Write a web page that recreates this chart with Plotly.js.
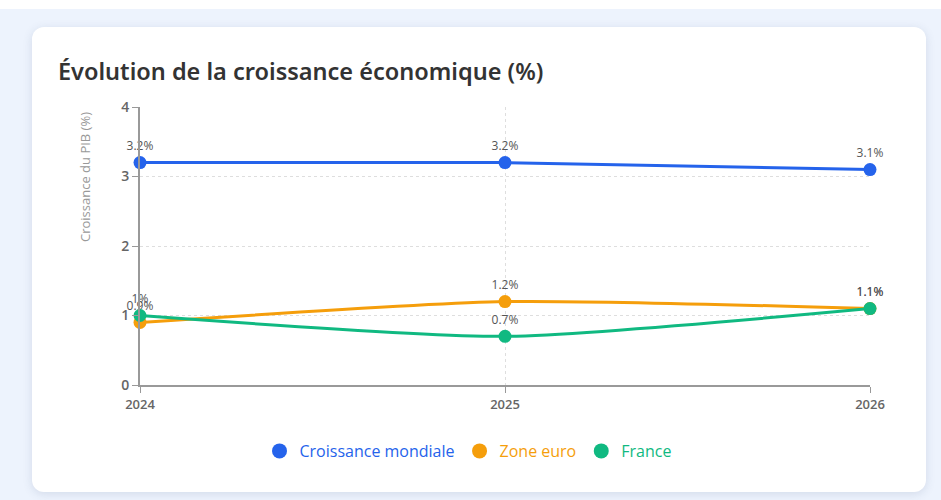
<!DOCTYPE html>
<html><head><meta charset="utf-8">
<script src="https://cdn.plot.ly/plotly-3.0.1.min.js"></script>
<style>
html,body{margin:0;padding:0;width:941px;height:500px;overflow:hidden;background:#fff;}
#bg{position:absolute;left:0;top:9px;width:941px;height:491px;background:#edf3fd;}
#card{position:absolute;left:32px;top:27px;width:894px;height:465px;background:#fff;border-radius:12px;box-shadow:0 2px 10px rgba(60,80,120,0.15);}
#chart{position:absolute;left:0;top:0;width:941px;height:500px;}
</style></head><body>
<div id="bg"></div><div id="card"></div><div id="chart"></div>
<script>
const years = [2024, 2025, 2026];
const mondiale = [3.2, 3.2, 3.1];
const zoneEuro = [0.9, 1.2, 1.1];
const france = [1.0, 0.7, 1.1];
const seriesNames = ['Croissance mondiale', 'Zone euro', 'France'];
const colors = ['#2563eb', '#f59e0b', '#10b981'];
const yTicks = [0, 1, 2, 3, 4];
const yTitle = 'Croissance du PIB (%)';

const fmt = v => (Math.round(v*10)/10) + '%';
const allSeries = [mondiale, zoneEuro, france];
const traces = [];
allSeries.forEach((vals, i) => {
  traces.push({
    x: years, y: vals, type: 'scatter', mode: 'lines+markers+text',
    line: {color: colors[i], width: 3, shape: 'spline', smoothing: 0.6},
    marker: {color: colors[i], size: 13},
    text: vals.map(fmt), textposition: 'top center',
    textfont: {family: 'Open Sans, sans-serif', size: 12, color: '#555', weight: 500},
    cliponaxis: false, showlegend: false, hoverinfo: 'skip'
  });
});
allSeries.forEach((vals, i) => {
  traces.push({
    x: [null], y: [null], type: 'scatter', mode: 'markers',
    marker: {color: colors[i], size: 15},
    name: '<span style="color:' + colors[i] + '">' + seriesNames[i] + '</span>',
    showlegend: true
  });
});

const layout = {
  width: 941, height: 500,
  paper_bgcolor: 'rgba(0,0,0,0)', plot_bgcolor: 'rgba(0,0,0,0)',
  margin: {l: 140, r: 71, t: 107, b: 115},
  font: {family: 'Open Sans, sans-serif'},
  title: {text: 'Évolution de la croissance économique (%)', x: 58/941, xref: 'container', xanchor: 'left',
          y: 1 - 72/500, yref: 'container', yanchor: 'middle',
          font: {family: 'Noto Sans, sans-serif', size: 23.5, color: '#333', weight: 600}},
  xaxis: {range: [2024, 2026], tickvals: years, ticktext: years.map(String),
          showline: true, linecolor: '#999', linewidth: 2, ticks: 'outside', ticklen: 6, tickcolor: '#999',
          showgrid: true, gridcolor: '#dedede', griddash: '3px,3px', zeroline: false,
          tickfont: {size: 13, color: '#666', weight: 600}},
  yaxis: {range: [0, 4], tickvals: yTicks, showline: true, linecolor: '#999', linewidth: 2,
          ticks: 'outside', ticklen: 6, tickcolor: '#999',
          showgrid: true, gridcolor: '#dedede', griddash: '3px,3px', zeroline: false,
          tickfont: {size: 14, color: '#666', weight: 600}},
  annotations: [{text: yTitle, textangle: -90, xref: 'paper', yref: 'paper',
                 x: -55/730, y: 1 - 70/278, xanchor: 'center', yanchor: 'middle', showarrow: false,
                 font: {size: 13, color: '#999'}}],
  legend: {orientation: 'h', x: 468/941, xref: 'container', xanchor: 'center',
           y: 1 - 451/500, yref: 'container', yanchor: 'middle',
           font: {size: 16}, itemwidth: 30, tracegroupgap: 0}
};
Plotly.newPlot('chart', traces, layout, {displayModeBar: false, staticPlot: true});
</script></body></html>
